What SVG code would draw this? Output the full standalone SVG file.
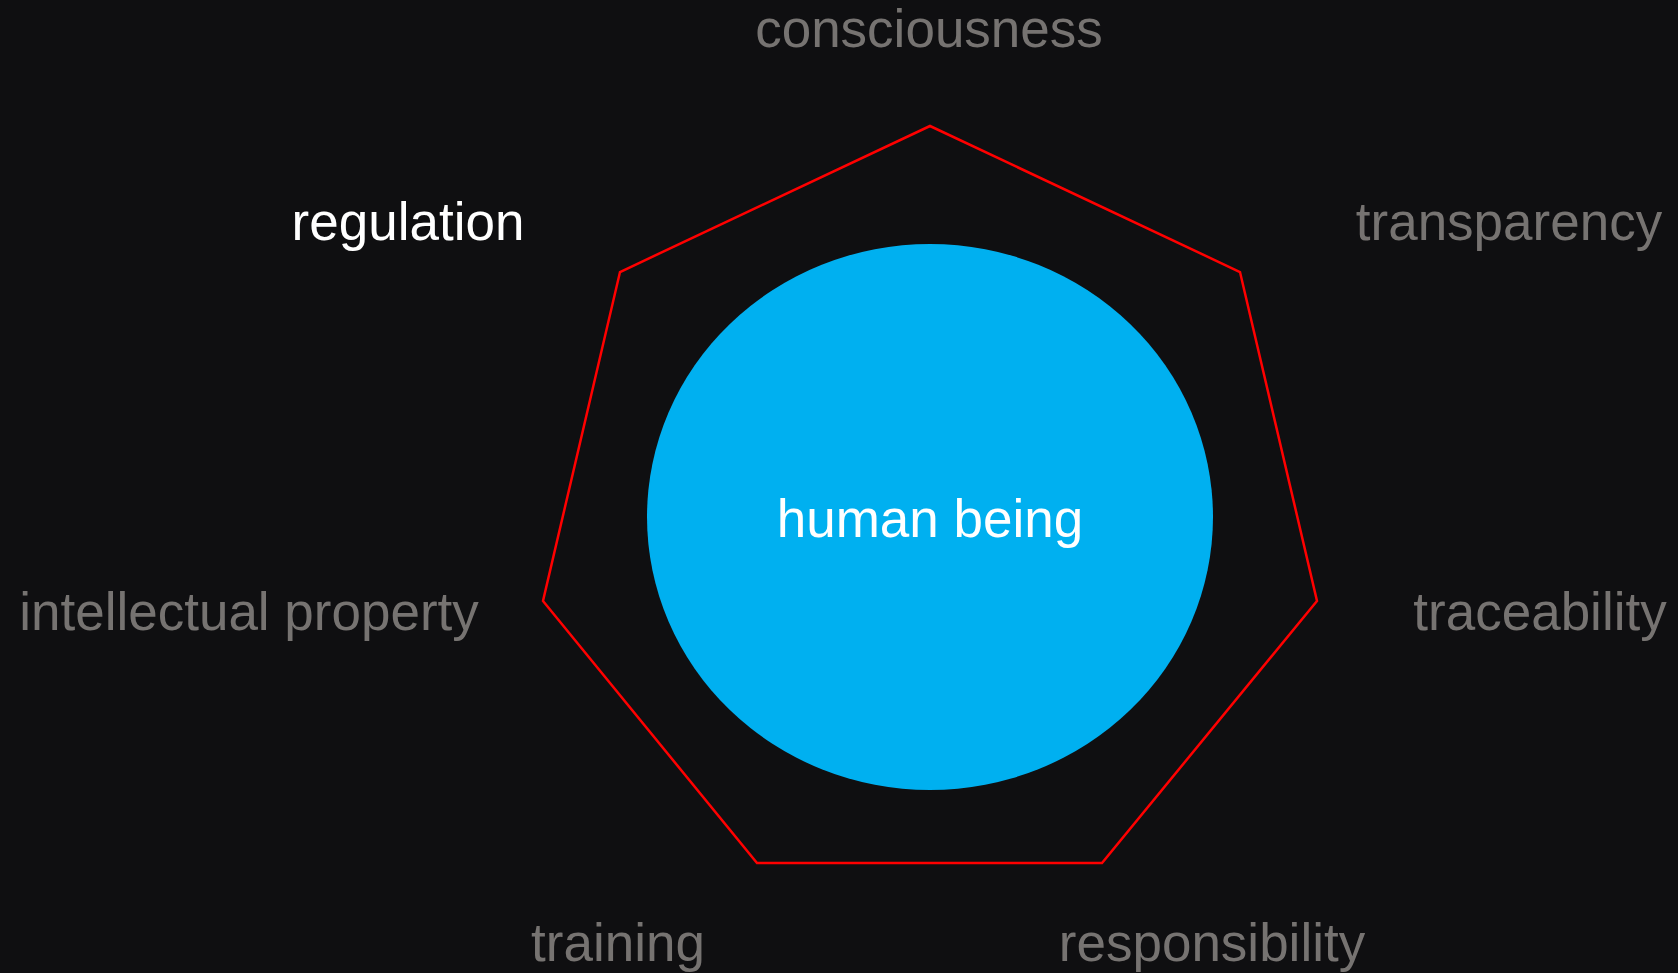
<svg xmlns="http://www.w3.org/2000/svg" width="1678" height="973" viewBox="0 0 1678 973">
<style>
.lbl{font-family:"Liberation Sans",Arial,sans-serif;font-size:53px;fill:#767371;text-anchor:middle}
.hi{fill:#ffffff}
</style>
<rect width="1678" height="973" fill="#0f0f11"/>
<g id="connectors">
<polygon points="930,126 1240,272 1317,601 1102,863 757,863 543,601 620,272" fill="none" stroke="#ff0000" stroke-width="2.5" stroke-linejoin="miter"/>
</g>
<g id="human-being">
<ellipse cx="930" cy="517" rx="283" ry="273" fill="#00b0f0"/>
<text class="lbl hi" x="930" y="537">human being</text>
</g>
<g id="consciousness"><text class="lbl" x="929" y="47">consciousness</text></g>
<g id="transparency"><text class="lbl" x="1509" y="240">transparency</text></g>
<g id="traceability"><text class="lbl" x="1540" y="630">traceability</text></g>
<g id="responsibility"><text class="lbl" x="1212" y="961">responsibility</text></g>
<g id="training"><text class="lbl" x="618" y="961">training</text></g>
<g id="intellectual-property"><text class="lbl" x="249" y="630">intellectual property</text></g>
<g id="regulation"><text class="lbl hi" x="408" y="240">regulation</text></g>
</svg>
